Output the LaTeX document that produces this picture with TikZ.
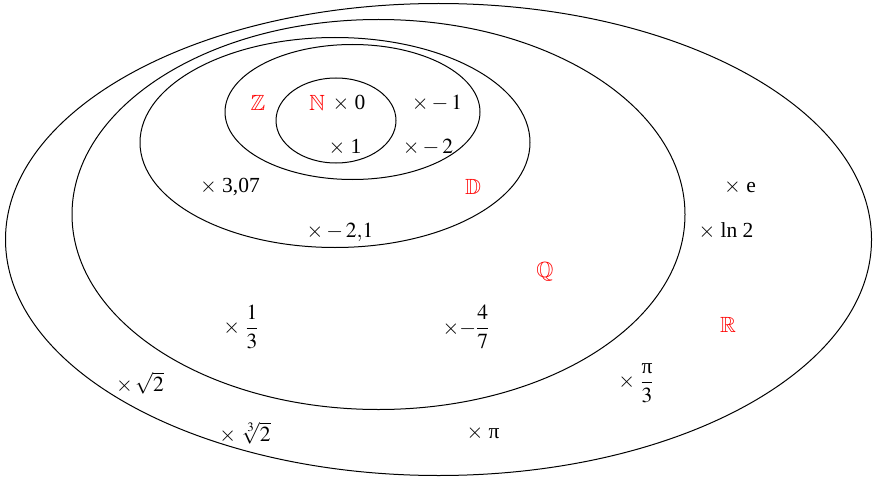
\documentclass[tikz,border=0pt]{standalone}
\usepackage{amsmath}
\usepackage{amssymb}
\usepackage{mathptmx}
\usepackage{fontspec}
\setmainfont{Liberation Serif}
\usetikzlibrary{shapes.geometric}
\begin{document}
\begin{tikzpicture}[x=1pt,y=-1pt,
  set/.style={draw,ellipse,line width=1pt,inner sep=0pt},
  lab/.style={text=red,font=\fontsize{22}{26}\selectfont,inner sep=0pt},
  pt/.style={font=\fontsize{21.5}{26}\selectfont,inner sep=0pt}]
\useasboundingbox (0,0) rectangle (877,476);
\node[set,minimum width=866pt,minimum height=472pt] (R) at (438.5,239.5) {};
\node[set,minimum width=613pt,minimum height=390pt] (Q) at (378.5,214.5) {};
\node[set,minimum width=390pt,minimum height=210pt] (D) at (335,142.5) {};
\node[set,minimum width=255pt,minimum height=135pt] (Z) at (352.5,112) {};
\node[set,minimum width=120pt,minimum height=85pt] (N) at (336,120.5) {};
% set labels
\node[lab] (lZ) at (258,103) {$\mathbb{Z}$};
\node[lab] (lN) at (317,103) {$\mathbb{N}$};
\node[lab] (lD) at (473,187) {$\mathbb{D}$};
\node[lab] (lQ) at (545,272) {$\mathbb{Q}$};
\node[lab] (lR) at (728,325) {$\mathbb{R}$};
% elements
\node[pt] (p0) at (349,103) {$\times$ 0};
\node[pt] (pm1) at (437,103) {$\times-1$};
\node[pt] (p1) at (345,147) {$\times$ 1};
\node[pt] (pm2) at (428,147) {$\times-2$};
\node[pt] (p307) at (230,187) {$\times$ 3,07};
\node[pt] (pm21) at (340,232) {$\times-2{,}1$};
\node[pt] (p13) at (241,327) {$\times$\ $\dfrac{1}{3}$};
\node[pt] (pm47) at (466,327) {$\times{-}\dfrac{4}{7}$};
\node[pt] (pe) at (740,187) {$\times$ e};
\node[pt] (pln) at (726,231) {$\times$ ln 2};
\node[pt] (ppi3) at (636,383) {$\times$\ $\dfrac{\text{π}}{3}$};
\node[pt] (ps2) at (140,383) {$\times\,\sqrt{2}$};
\node[pt] (pc2) at (245,433) {$\times$ $\sqrt[3]{2}$};
\node[pt] (ppi) at (483,433) {$\times$ π};
\end{tikzpicture}
\end{document}
